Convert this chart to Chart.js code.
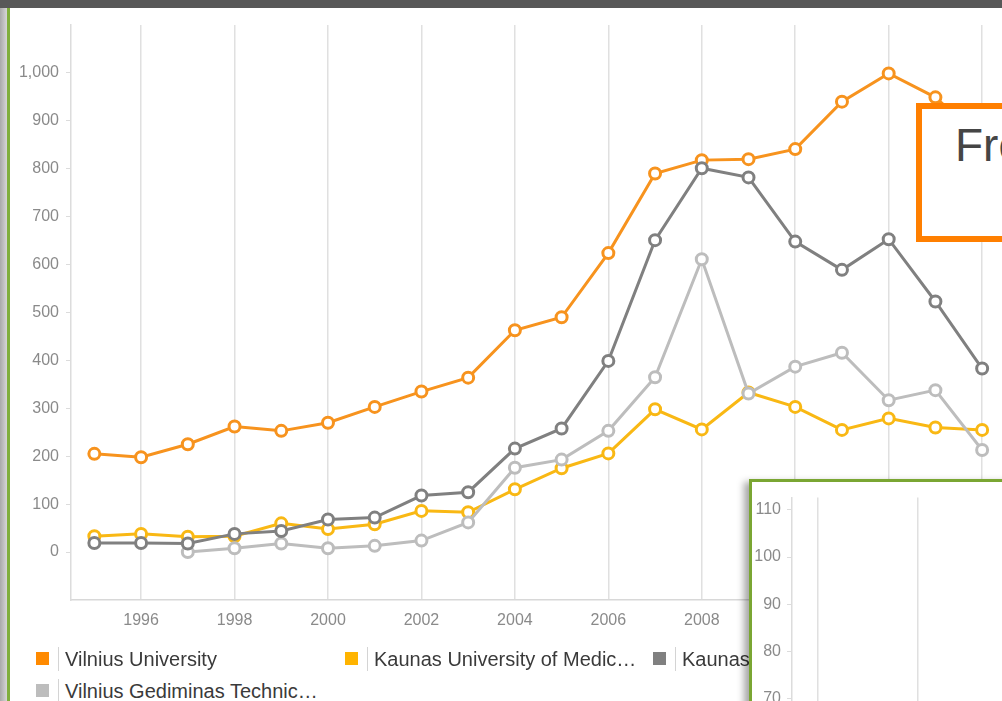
<!DOCTYPE html>
<html>
<head>
<meta charset="utf-8">
<script src="https://cdn.jsdelivr.net/npm/chart.js@4.4.0/dist/chart.umd.min.js"></script>
<style>
body { margin:0; width:1002px; height:701px; overflow:hidden; position:relative; background:#fff; font-family:"Liberation Sans", Arial, sans-serif; }
#topbar { position:absolute; left:0; top:0; width:1002px; height:8px; background:#585858; }
#leftbar { position:absolute; left:0; top:8px; width:7px; height:693px; background:linear-gradient(to right,#a9a9a9,#d6d6d6); }
#leftline { position:absolute; left:7px; top:8px; width:3px; height:693px; background:#7fae3c; }
#main { position:absolute; left:10px; top:8px; }
.item { position:absolute; height:24px; font-size:20px; color:#3a3a3a; white-space:nowrap; }
.item .sq { position:absolute; left:0; top:5px; width:13px; height:13px; }
.item .sep { position:absolute; left:22px; top:0; width:1px; height:24px; background:#d4d4d4; }
.item .txt { position:absolute; left:29px; top:0; line-height:24px; }
#note { position:absolute; left:916px; top:103px; width:200px; height:127px; border:6px solid #ff7f00; background:#fff; }
#note span { position:absolute; left:33px; top:13px; font-size:46px; line-height:46px; color:#454545; }
#inset { position:absolute; left:749px; top:479px; width:300px; height:260px; border-left:3px solid #7aa632; border-top:3px solid #7aa632; background:#fff; box-shadow:-5px 3px 7px rgba(0,0,0,0.35); }
#inset canvas { position:absolute; left:0; top:0; }
</style>
</head>
<body>
<div id="topbar"></div>
<div id="leftbar"></div>
<div id="leftline"></div>
<canvas id="main" width="1004" height="640" style="width:1004px;height:640px"></canvas>
<div id="legend"></div>
<div id="note"><span>From</span></div>
<div id="inset"><canvas id="insetChart" width="300" height="260" style="width:300px;height:260px"></canvas></div>
<script>
// x values
var years = [1995, 1996, 1997, 1998, 1999, 2000, 2001, 2002, 2003, 2004,
             2005, 2006, 2007, 2008, 2009, 2010, 2011, 2012, 2013, 2014];
// series values
var vilniusUniversity = [205, 198, 225, 262, 253, 270, 303, 335, 364, 463, 490, 624, 790, 818, 820, 841, 940, 999, 949, 860];
var kaunasMedicine    = [33, 38, 32, 33, 60, 48, 58, 86, 83, 131, 175, 206, 298, 256, 333, 303, 255, 279, 260, 255];
var kaunasTechnology  = [19, 19, 18, 38, 44, 68, 72, 118, 125, 216, 258, 399, 651, 801, 782, 648, 589, 653, 523, 383];
var vilniusGediminas  = [null, null, 0, 8, 18, 8, 13, 24, 62, 176, 193, 253, 365, 611, 331, 387, 416, 317, 338, 213];

var seriesNames  = ['Vilnius University', 'Kaunas University of Medic\u2026', 'Kaunas University of Techn\u2026', 'Vilnius Gediminas Technic\u2026'];
var seriesColors = ['#f7931e', '#f9b814', '#808080', '#bdbdbd'];
var legendColors = ['#ff8a00', '#ffb400', '#808080', '#bdbdbd'];

// tick labels
var xTicks = [1996, 1998, 2000, 2002, 2004, 2006, 2008, 2010, 2012, 2014];
var yTicks = [0, 100, 200, 300, 400, 500, 600, 700, 800, 900, 1000];
var insetYTicks = [70, 80, 90, 100, 110];
var insetXTicks = [0, 1, 2];

Chart.defaults.font.family = '"Liberation Sans", Arial, sans-serif';
Chart.defaults.font.size = 16;
Chart.defaults.color = '#8a8a8a';
Chart.defaults.animation = false;

function points(arr) {
  return years.map(function (y, i) { return { x: y, y: arr[i] }; });
}

function makeSet(i, arr, order) {
  return {
    label: seriesNames[i],
    data: points(arr),
    borderColor: seriesColors[i],
    backgroundColor: '#fff',
    pointBackgroundColor: '#fff',
    pointBorderColor: seriesColors[i],
    pointRadius: 5.5,
    pointBorderWidth: 3,
    borderWidth: 3,
    tension: 0,
    order: order
  };
}

new Chart(document.getElementById('main').getContext('2d'), {
  type: 'line',
  data: {
    datasets: [
      makeSet(0, vilniusUniversity, 3),
      makeSet(1, kaunasMedicine, 2),
      makeSet(2, kaunasTechnology, 0),
      makeSet(3, vilniusGediminas, 1)
    ]
  },
  options: {
    responsive: false,
    layout: { padding: { top: 17, right: 0, left: 0, bottom: 0 } },
    plugins: { legend: { display: false }, tooltip: { enabled: false } },
    scales: {
      x: {
        type: 'linear',
        min: 1994.5,
        max: 2014.5,
        afterBuildTicks: function (axis) { axis.ticks = xTicks.map(function (v) { return { value: v }; }); },
        afterFit: function (axis) { axis.height = 48; },
        grid: { color: '#e0e0e0', lineWidth: 1.5, drawTicks: false },
        border: { color: '#d8d8d8', width: 1.5 },
        ticks: { padding: 11, autoSkip: false, maxRotation: 0, callback: function (v) { return String(v); } }
      },
      y: {
        min: -100,
        max: 1100,
        afterBuildTicks: function (axis) { axis.ticks = yTicks.map(function (v) { return { value: v }; }); },
        afterFit: function (axis) { axis.width = 61; },
        grid: { drawOnChartArea: false, drawTicks: true, tickLength: 5, color: '#dcdcdc' },
        border: { color: '#dcdcdc', width: 1.5 },
        ticks: { padding: 7, callback: function (v) { return v.toLocaleString('en-US'); } }
      }
    }
  }
});

// legend
var legend = document.getElementById('legend');
var legendPos = [[36, 647], [345, 647], [653, 647], [36, 679]];
seriesNames.forEach(function (name, i) {
  var d = document.createElement('div');
  d.className = 'item';
  d.style.left = legendPos[i][0] + 'px';
  d.style.top = legendPos[i][1] + 'px';
  d.innerHTML = '<div class="sq" style="background:' + legendColors[i] + '"></div><div class="sep"></div><div class="txt"></div>';
  d.querySelector('.txt').textContent = name;
  legend.appendChild(d);
});

// inset chart (empty axes)
new Chart(document.getElementById('insetChart').getContext('2d'), {
  type: 'line',
  data: { datasets: [] },
  options: {
    responsive: false,
    layout: { padding: { top: 8, right: 0, left: 0, bottom: 0 } },
    plugins: { legend: { display: false }, tooltip: { enabled: false } },
    scales: {
      x: {
        type: 'linear',
        min: -0.26,
        max: 2.34,
        afterBuildTicks: function (axis) { axis.ticks = insetXTicks.map(function (v) { return { value: v }; }); },
        afterFit: function (axis) { axis.height = 0; },
        grid: { color: '#e0e0e0', lineWidth: 1.5, drawTicks: false },
        border: { display: false },
        ticks: { display: false }
      },
      y: {
        type: 'linear',
        min: 64.1,
        max: 112.6,
        afterBuildTicks: function (axis) { axis.ticks = insetYTicks.map(function (v) { return { value: v }; }); },
        afterFit: function (axis) { axis.width = 40; },
        grid: { drawOnChartArea: false, drawTicks: true, tickLength: 5, color: '#dcdcdc' },
        border: { color: '#dcdcdc', width: 1.5 },
        ticks: { padding: 6 }
      }
    }
  }
});
</script>
</body>
</html>
